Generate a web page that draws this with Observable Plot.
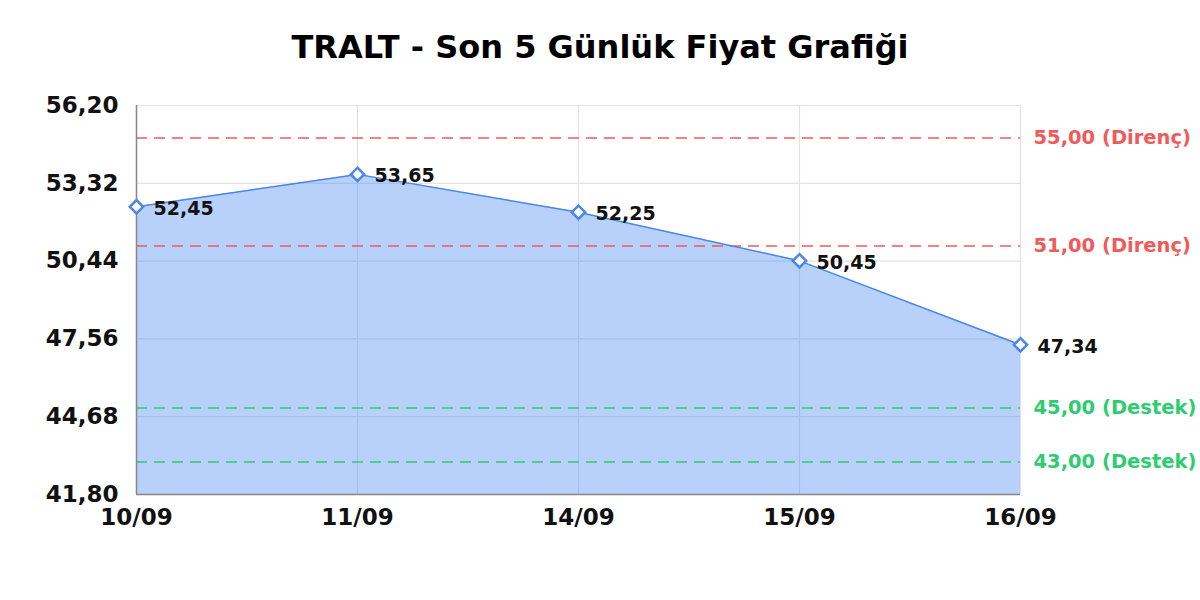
<!DOCTYPE html>
<html>
<head>
<meta charset="utf-8">
<script src="https://cdn.jsdelivr.net/npm/d3@7"></script>
<script src="https://cdn.jsdelivr.net/npm/@observablehq/plot@0.6"></script>
<style>
  html, body { margin: 0; padding: 0; background: #fff; }
  #wrap { width: 1200px; height: 600px; position: relative; font-family: "DejaVu Sans", sans-serif; }
  #title { box-sizing: border-box; height: 80px; padding-top: 31px; font-size: 32px; line-height: 1; font-weight: bold; text-align: center; color: #000; }
  svg { display: block; }
</style>
</head>
<body>
<div id="wrap">
  <div id="title">TRALT - Son 5 Günlük Fiyat Grafiği</div>
  <div id="chart"></div>
</div>
<script>
const dates = ["10/09", "11/09", "14/09", "15/09", "16/09"];
const prices = [52.45, 53.65, 52.25, 50.45, 47.34];
const resistance = [55.00, 51.00];
const support = [45.00, 43.00];
const yTicks = [41.80, 44.68, 47.56, 50.44, 53.32, 56.20];

const data = dates.map((d, i) => ({date: d, price: prices[i]}));
const fmt = v => v.toFixed(2).replace(".", ",");
const yMin = yTicks[0], yMax = yTicks[yTicks.length - 1];

const red = "#f05a5a";
const green = "#2ecc71";
const blue = "#4a86e8";

const chart = Plot.plot({
  width: 1200,
  height: 520,
  marginTop: 25,
  marginBottom: 106,
  marginLeft: 136,
  marginRight: 180,
  style: {fontFamily: "DejaVu Sans", background: "#fff", overflow: "visible"},
  x: {type: "point", domain: dates, padding: 0},
  y: {domain: [yMin, yMax]},
  marks: [
    Plot.gridY(yTicks, {stroke: "#e3e3e3", strokeOpacity: 1, strokeWidth: 1.2}),
    Plot.gridX(dates, {stroke: "#e3e3e3", strokeOpacity: 1, strokeWidth: 1.2}),
    Plot.areaY(data, {x: "date", y1: yMin, y2: "price", fill: "rgba(66,133,244,0.38)", curve: "linear"}),
    Plot.ruleY(resistance, {stroke: red, strokeWidth: 1.5, strokeDasharray: "11,7"}),
    Plot.ruleY(support, {stroke: green, strokeWidth: 1.5, strokeDasharray: "11,7"}),
    Plot.lineY(data, {x: "date", y: "price", stroke: blue, strokeWidth: 1.5, curve: "linear"}),
    Plot.ruleX([dates[0]], {stroke: "#888", strokeWidth: 1.5}),
    Plot.ruleY([yMin], {stroke: "#888", strokeWidth: 1.5}),
    Plot.dot(data, {x: "date", y: "price", symbol: "diamond2", r: 6, fill: "#fff", stroke: blue, strokeWidth: 2.5}),
    Plot.text(data, {x: "date", y: "price", text: d => fmt(d.price), dx: 17, dy: 2, textAnchor: "start", fontSize: 19, fontWeight: "bold", fill: "#111"}),
    Plot.text(resistance, {y: d => d, frameAnchor: "right", dx: 13, textAnchor: "start", text: d => `${fmt(d)} (Direnç)`, fontSize: 19.5, fontWeight: "bold", fill: red}),
    Plot.text(support, {y: d => d, frameAnchor: "right", dx: 13, textAnchor: "start", text: d => `${fmt(d)} (Destek)`, fontSize: 19.5, fontWeight: "bold", fill: green}),
    Plot.axisY({ticks: yTicks, tickFormat: fmt, tickSize: 0, tickPadding: 18, fontSize: 23, fontWeight: "bold", fill: "#111", label: null}),
    Plot.axisX({tickSize: 0, tickPadding: 14, fontSize: 23, fontWeight: "bold", fill: "#111", label: null})
  ]
});
document.getElementById("chart").appendChild(chart);
</script>
</body>
</html>
